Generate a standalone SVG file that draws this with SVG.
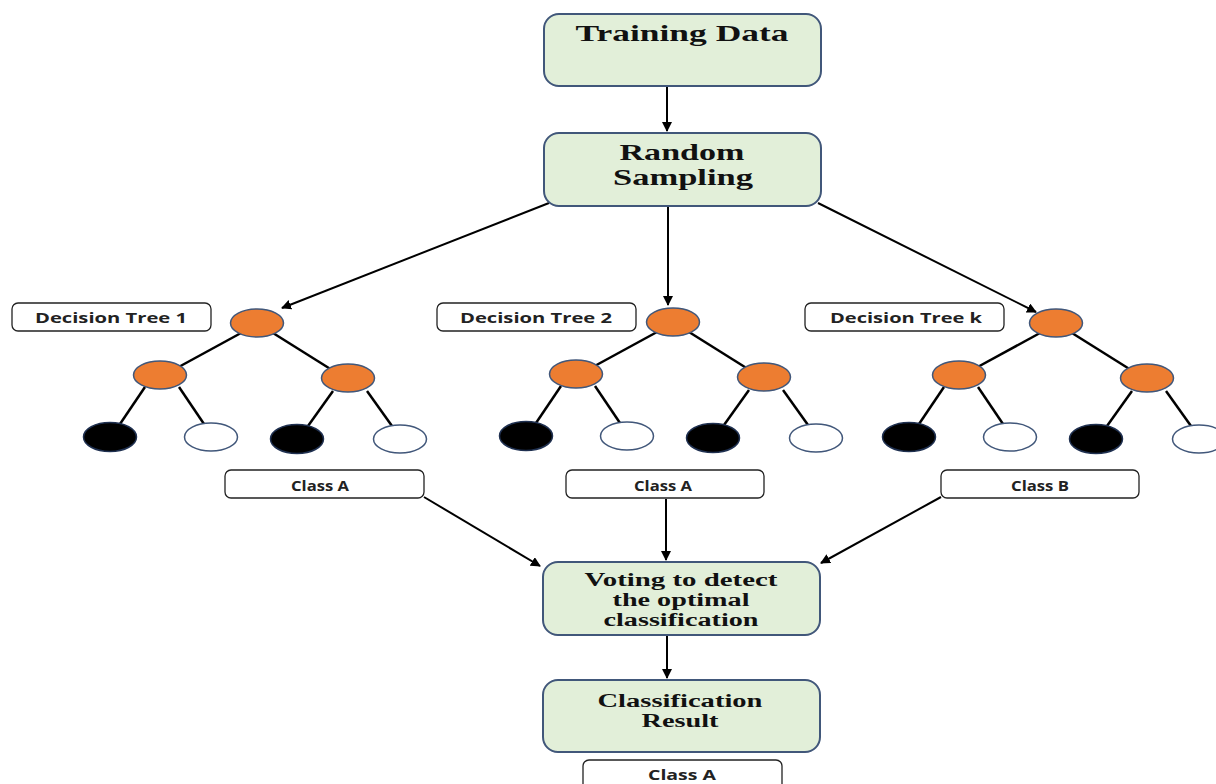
<svg xmlns="http://www.w3.org/2000/svg" width="1216" height="784" viewBox="0 0 1216 784">
<defs>
<style>
.box{fill:#e2efd9;stroke:#41577a;stroke-width:2}
.lbl{fill:#fff;stroke:#222;stroke-width:1.3}
.ttl{font-family:"Liberation Serif",serif;font-weight:bold;font-size:23px;fill:#111;text-anchor:middle}
.ttl2{font-family:"Liberation Serif",serif;font-weight:bold;font-size:18px;fill:#111;text-anchor:middle}
.sm{font-family:"Open Sans","Liberation Sans",sans-serif;font-weight:bold;font-size:14px;fill:#222;text-anchor:middle}
.org{fill:#ed7d31;stroke:#41577a;stroke-width:1.5}
.blk{fill:#000;stroke:#1f3050;stroke-width:1.5}
.wht{fill:#fff;stroke:#41577a;stroke-width:1.5}
.edge{stroke:#000;stroke-width:2.5;fill:none}
.arr{stroke:#000;stroke-width:2;fill:none;marker-end:url(#ah)}
</style>
<marker id="ah" viewBox="0 0 10 10" refX="9" refY="5" markerWidth="5" markerHeight="5" orient="auto" markerUnits="strokeWidth">
<path d="M0,0 L10,5 L0,10 z" fill="#000"/>
</marker>
<g id="tree">
<line class="edge" x1="-16" y1="10" x2="-82" y2="46"/>
<line class="edge" x1="16" y1="10" x2="75" y2="47"/>
<line class="edge" x1="-112" y1="64" x2="-137" y2="101"/>
<line class="edge" x1="-78" y1="64" x2="-53" y2="101"/>
<line class="edge" x1="76" y1="68" x2="51" y2="103"/>
<line class="edge" x1="110" y1="68" x2="135" y2="103"/>
<ellipse class="org" cx="0" cy="0" rx="26.5" ry="14"/>
<ellipse class="org" cx="-97" cy="52" rx="26.5" ry="14"/>
<ellipse class="org" cx="91" cy="55" rx="26.5" ry="14"/>
<ellipse class="blk" cx="-147" cy="114" rx="26.5" ry="14.5"/>
<ellipse class="wht" cx="-46" cy="114" rx="26.5" ry="14"/>
<ellipse class="blk" cx="40" cy="116" rx="26.5" ry="14.5"/>
<ellipse class="wht" cx="143" cy="116" rx="26.5" ry="14"/>
</g>
</defs>
<rect width="1216" height="784" fill="#fff"/>

<g id="connectors">
<line class="arr" x1="667" y1="87" x2="667" y2="131"/>
<line class="arr" x1="549" y1="203" x2="282" y2="308"/>
<line class="arr" x1="668" y1="207" x2="668" y2="305"/>
<line class="arr" x1="818" y1="203" x2="1036" y2="312"/>
<line class="arr" x1="424" y1="497" x2="540" y2="566"/>
<line class="arr" x1="666" y1="499" x2="666" y2="560"/>
<line class="arr" x1="941" y1="497" x2="821" y2="563"/>
<line class="arr" x1="667" y1="636" x2="667" y2="678"/>
</g>

<g id="training-data">
<rect class="box" x="544" y="14" width="277" height="72" rx="15"/>
<text class="ttl" x="682" y="41" textLength="213" lengthAdjust="spacingAndGlyphs">Training Data</text>
</g>
<g id="random-sampling">
<rect class="box" x="544" y="133" width="277" height="73" rx="15"/>
<text class="ttl" x="682" y="160" textLength="125" lengthAdjust="spacingAndGlyphs">Random</text>
<text class="ttl" x="683" y="185" textLength="140" lengthAdjust="spacingAndGlyphs">Sampling</text>
</g>

<g id="tree-1">
<rect class="lbl" x="12" y="303" width="199" height="28" rx="6"/>
<text class="sm" x="111" y="323" textLength="152" lengthAdjust="spacingAndGlyphs">Decision Tree 1</text>
<use href="#tree" x="257" y="323"/>
</g>
<g id="tree-2">
<rect class="lbl" x="437" y="303" width="199" height="28" rx="6"/>
<text class="sm" x="536" y="323" textLength="152" lengthAdjust="spacingAndGlyphs">Decision Tree 2</text>
<use href="#tree" x="673" y="322"/>
</g>
<g id="tree-k">
<rect class="lbl" x="805" y="303" width="199" height="28" rx="6"/>
<text class="sm" x="906" y="323" textLength="152" lengthAdjust="spacingAndGlyphs">Decision Tree k</text>
<use href="#tree" x="1056" y="323"/>
</g>

<g id="class-a-1">
<rect class="lbl" x="225" y="470" width="199" height="28" rx="6"/>
<text class="sm" x="320" y="491" textLength="58" lengthAdjust="spacingAndGlyphs">Class A</text>
</g>
<g id="class-a-2">
<rect class="lbl" x="566" y="470" width="198" height="28" rx="6"/>
<text class="sm" x="663" y="491" textLength="58" lengthAdjust="spacingAndGlyphs">Class A</text>
</g>
<g id="class-b">
<rect class="lbl" x="941" y="470" width="198" height="28" rx="6"/>
<text class="sm" x="1040" y="491" textLength="58" lengthAdjust="spacingAndGlyphs">Class B</text>
</g>

<g id="voting">
<rect class="box" x="543" y="562" width="277" height="73" rx="15"/>
<text class="ttl2" x="681" y="586" textLength="193" lengthAdjust="spacingAndGlyphs">Voting to detect</text>
<text class="ttl2" x="681" y="606" textLength="137" lengthAdjust="spacingAndGlyphs">the optimal</text>
<text class="ttl2" x="681" y="626" textLength="155" lengthAdjust="spacingAndGlyphs">classification</text>
</g>
<g id="classification-result">
<rect class="box" x="543" y="680" width="277" height="72" rx="15"/>
<text class="ttl2" x="680" y="707" textLength="165" lengthAdjust="spacingAndGlyphs">Classification</text>
<text class="ttl2" x="680" y="727" textLength="77" lengthAdjust="spacingAndGlyphs">Result</text>
</g>
<g id="class-a-final">
<rect class="lbl" x="583" y="760" width="199" height="34" rx="6"/>
<text class="sm" x="682" y="780" textLength="68" lengthAdjust="spacingAndGlyphs">Class A</text>
</g>
</svg>
